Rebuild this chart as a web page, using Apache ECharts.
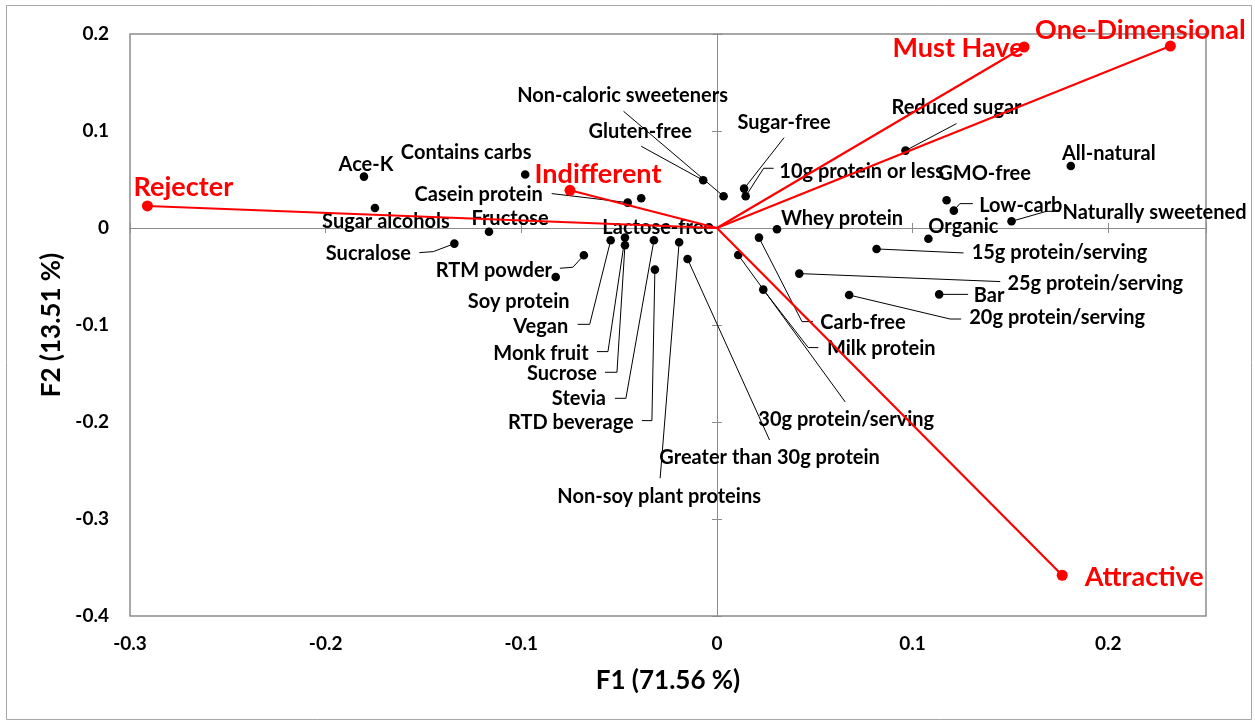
<!DOCTYPE html>
<html>
<head>
<meta charset="utf-8">
<script src="https://cdn.jsdelivr.net/npm/echarts@6.0.0/dist/echarts.min.js"></script>
<style>
  html, body { margin: 0; padding: 0; background: #fff; }
  #chart { width: 1255px; height: 724px; }
</style>
</head>
<body>
<div id="chart"></div>
<script>
// Kano categories (red vectors from the origin)
const profiles = ['Rejecter', 'Indifferent', 'Must Have', 'One-Dimensional', 'Attractive'];
const profileF1 = [-0.2911, -0.0751, 0.1570, 0.2318, 0.1765];
const profileF2 = [0.0227, 0.0389, 0.1866, 0.1876, -0.3580];

// product attributes (black points)
const attributes = [
  'Ace-K', 'Sugar alcohols', 'Fructose', 'Sucralose', 'Contains carbs',
  'Casein protein', 'Lactose-free', 'Gluten-free', 'Non-caloric sweeteners', 'Sugar-free',
  '10g protein or less', 'Whey protein', 'Reduced sugar', 'All-natural', 'GMO-free',
  'Low-carb', 'Naturally sweetened', 'Organic', '15g protein/serving', '25g protein/serving',
  '20g protein/serving', 'Bar', 'Carb-free', 'Milk protein', '30g protein/serving',
  'Greater than 30g protein', 'Non-soy plant proteins', 'RTD beverage', 'Stevia', 'Sucrose',
  'Monk fruit', 'Vegan', 'Soy protein', 'RTM powder'
];
const attrF1 = [
  -0.1804, -0.1748, -0.1165, -0.1342, -0.0980,
  -0.0456, -0.0387, -0.0070, 0.0034, 0.0139,
  0.0147, 0.0307, 0.0964, 0.1809, 0.1174,
  0.1211, 0.1506, 0.1081, 0.0816, 0.0421,
  0.0676, 0.1136, 0.0215, 0.0237, 0.0109,
  -0.0150, -0.0193, -0.0317, -0.0322, -0.0470,
  -0.0470, -0.0543, -0.0824, -0.0680
];
const attrF2 = [
  0.0530, 0.0206, -0.0039, -0.0161, 0.0551,
  0.0262, 0.0306, 0.0492, 0.0327, 0.0406,
  0.0327, -0.0013, 0.0798, 0.0639, 0.0286,
  0.0179, 0.0069, -0.0111, -0.0216, -0.0470,
  -0.0691, -0.0684, -0.0099, -0.0635, -0.0278,
  -0.0320, -0.0147, -0.0429, -0.0127, -0.0178,
  -0.0099, -0.0127, -0.0505, -0.0281
];

const xTicks = { min: -0.3, max: 0.25, step: 0.1 };
const yTicks = { min: -0.4, max: 0.2, step: 0.1 };

// label placement (pixel offsets from the point) and leader lines
const labelPlace = {
  'Ace-K': { at: [2, -12] },
  'Sugar alcohols': { at: [11, 14] },
  'Fructose': { at: [21, -13] },
  'Sucralose': { at: [-86, 10], lead: [[0, 0], [-21, 8], [-35, 9]] },
  'Contains carbs': { at: [-59, -22] },
  'Casein protein': { at: [-149, -8], lead: [[0, 0], [-76, -9]] },
  'Lactose-free': { at: [17, 29] },
  'Gluten-free': { at: [-63, -49], lead: [[0, 0], [-62, -34]] },
  'Non-caloric sweeteners': { at: [-101, -101], lead: [[0, 0], [-100, -85]] },
  'Sugar-free': { at: [40, -66], lead: [[0, 0], [40, -51]] },
  '10g protein or less': { at: [116, -25], lead: [[0, 0], [18, -28], [28, -28]] },
  'Whey protein': { at: [65, -11] },
  'Reduced sugar': { at: [51, -43], lead: [[0, 0], [51, -27]] },
  'All-natural': { at: [38, -12] },
  'GMO-free': { at: [38, -27] },
  'Low-carb': { at: [67, -5], lead: [[0, 0], [6, -7], [19, -7]] },
  'Naturally sweetened': { at: [143, -9], lead: [[0, 0], [35, -10], [48, -10]] },
  'Organic': { at: [35, -12] },
  '15g protein/serving': { at: [183, 4], lead: [[0, 0], [87, 4]] },
  '25g protein/serving': { at: [296, 10], lead: [[0, 0], [201, 8]] },
  '20g protein/serving': { at: [208, 23], lead: [[0, 0], [101, 24], [112, 24]] },
  'Bar': { at: [50, 1], lead: [[0, 0], [29, 0]] },
  'Carb-free': { at: [104, 85], lead: [[0, 0], [43, 84], [54, 84]] },
  'Milk protein': { at: [118, 59], lead: [[0, 0], [45, 58], [55, 58]] },
  '30g protein/serving': { at: [108, 165], lead: [[0, 0], [107, 147]] },
  'Greater than 30g protein': { at: [82, 199], lead: [[0, 0], [82, 181]] },
  'Non-soy plant proteins': { at: [-20, 254], lead: [[0, 0], [-19, 236]] },
  'RTD beverage': { at: [-84, 153], lead: [[0, 0], [-3, 151], [-13, 151]] },
  'Stevia': { at: [-75, 158], lead: [[0, 0], [-28, 158], [-39, 158]] },
  'Sucrose': { at: [-63, 128], lead: [[0, 0], [-8, 127], [-20, 127]] },
  'Monk fruit': { at: [-84, 116], lead: [[0, 0], [-17, 114], [-28, 114]] },
  'Vegan': { at: [-70, 86], lead: [[0, 0], [-21, 84], [-33, 84]] },
  'Soy protein': { at: [-37, 25] },
  'RTM powder': { at: [-90, 15], lead: [[0, 0], [-11, 12], [-24, 13]] }
};
const redLabelAt = {
  'Rejecter': [36, -19],
  'Indifferent': [28, -16],
  'Must Have': [-66, 1],
  'One-Dimensional': [-30, -16],
  'Attractive': [82, 2]
};

const FONT = 'Lato';
const GREY = '#8c8c8c';
const chart = echarts.init(document.getElementById('chart'));

// axis through zero with tick marks, one side each
const zeroAxis = (range, pos, inside) => ({
  type: 'value', min: range.min, max: range.max, interval: range.step, position: pos,
  axisLine: { show: true, onZero: true, onZeroAxisIndex: 0, lineStyle: { color: GREY, width: 1 } },
  axisTick: { show: true, inside: inside, length: 5, lineStyle: { color: GREY, width: 1 } },
  axisLabel: { show: false },
  splitLine: { show: false }
});

const tickFont = { fontFamily: FONT, fontWeight: 'bold', fontSize: 19, color: '#000' };

const series = [
  {
    type: 'custom',
    data: attributes.map((n, i) => [attrF1[i], attrF2[i]]),
    z: 3,
    silent: true,
    renderItem: (params, api) => {
      const p = api.coord([api.value(0), api.value(1)]);
      const name = attributes[params.dataIndex];
      const place = labelPlace[name];
      const kids = [];
      if (place.lead) {
        kids.push({
          type: 'polyline',
          shape: { points: place.lead.map(o => [p[0] + o[0], p[1] + o[1]]) },
          style: { stroke: '#000', lineWidth: 1, fill: null }
        });
      }
      kids.push({ type: 'circle', shape: { cx: p[0], cy: p[1], r: 4.3 }, style: { fill: '#000' } });
      kids.push({
        type: 'text',
        x: p[0] + place.at[0],
        y: p[1] + place.at[1],
        style: {
          text: name, align: 'center', verticalAlign: 'middle', fill: '#000',
          font: 'bold 20px ' + FONT
        }
      });
      return { type: 'group', children: kids };
    }
  }
];

profiles.forEach((p, i) => {
  series.push({
    type: 'line',
    name: p,
    z: 5,
    silent: true,
    symbol: 'circle',
    symbolSize: 0,
    showSymbol: true,
    lineStyle: { color: '#ff0000', width: 2.2 },
    itemStyle: { color: '#ff0000' },
    data: [
      [0, 0],
      {
        value: [profileF1[i], profileF2[i]],
        symbolSize: 11,
        label: {
          show: true, position: 'inside', offset: redLabelAt[p], formatter: p,
          fontFamily: FONT, fontWeight: 'bold', fontSize: 27, color: '#ff0000'
        }
      }
    ]
  });
});

chart.setOption({
  animation: false,
  backgroundColor: '#fff',
  graphic: [{
    type: 'rect', shape: { x: 6.5, y: 5.5, width: 1245, height: 714 },
    style: { fill: null, stroke: '#a6a6a6', lineWidth: 1 }, silent: true
  }],
  grid: {
    left: 130, right: 49, top: 34, bottom: 108,
    show: true, borderColor: GREY, borderWidth: 1.5, backgroundColor: 'transparent'
  },
  xAxis: [
    {
      type: 'value', min: xTicks.min, max: xTicks.max, interval: xTicks.step, position: 'bottom',
      axisLine: { show: false, onZero: false },
      axisTick: { show: false },
      splitLine: { show: false },
      axisLabel: { ...tickFont, margin: 18, showMaxLabel: false },
      name: 'F1 (71.56 %)', nameLocation: 'middle', nameGap: 52,
      nameTextStyle: { fontFamily: FONT, fontWeight: 'bold', fontSize: 26, color: '#000' }
    },
    zeroAxis(xTicks, 'bottom', true),
    zeroAxis(xTicks, 'bottom', false)
  ],
  yAxis: [
    {
      type: 'value', min: yTicks.min, max: yTicks.max, interval: yTicks.step, position: 'left',
      axisLine: { show: false, onZero: false },
      axisTick: { show: false },
      splitLine: { show: false },
      axisLabel: { ...tickFont, margin: 21 },
      name: 'F2 (13.51 %)', nameLocation: 'middle', nameGap: 55,
      nameTextStyle: { fontFamily: FONT, fontWeight: 'bold', fontSize: 26, color: '#000' }
    },
    zeroAxis(yTicks, 'left', true),
    zeroAxis(yTicks, 'left', false)
  ],
  series: series
});
</script>
</body>
</html>
